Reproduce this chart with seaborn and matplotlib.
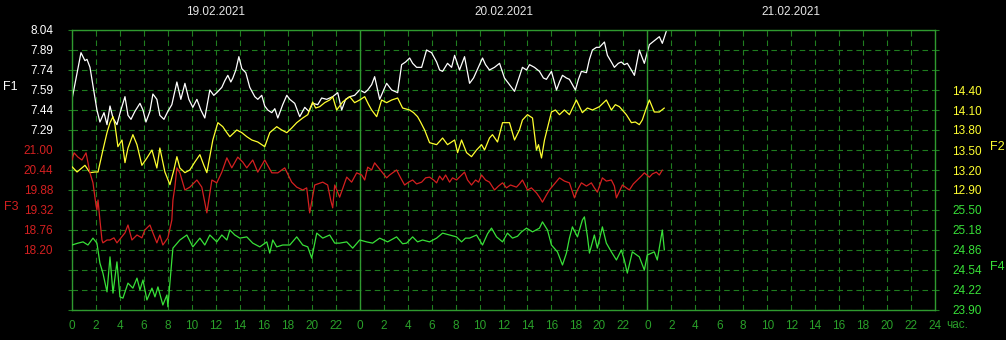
import matplotlib
matplotlib.use("Agg")
import matplotlib.pyplot as plt
import numpy as np
import seaborn as sns

# --- data (hours since 19.02.2021 00:00) ---
dates = ["19.02.2021", "20.02.2021", "21.02.2021"]

f1_hours = [0.00, 0.75, 1.08, 1.25, 1.50, 2.08, 2.33, 2.67, 2.92, 3.17,
            3.42, 3.75, 4.08, 4.42, 4.67, 4.92, 5.25, 5.67, 5.92, 6.17,
            6.50, 6.75, 7.08, 7.33, 7.67, 8.00, 8.33, 8.75, 9.08, 9.42,
            9.75, 10.08, 10.42, 10.75, 11.08, 11.50, 11.83, 12.08, 12.50, 12.75,
            13.00, 13.25, 13.42, 13.67, 13.92, 14.17, 14.50, 14.83, 15.25, 15.50,
            15.83, 16.08, 16.33, 16.67, 16.92, 17.17, 17.58, 17.92, 18.17, 18.58,
            19.00, 19.42, 19.75, 20.08, 20.50, 20.83, 21.25, 21.75, 22.17, 22.50,
            22.83, 23.17, 23.58, 24.00, 24.42, 24.67, 25.00, 25.25, 25.67, 26.00,
            26.25, 26.67, 27.17, 27.50, 27.83, 28.17, 28.42, 28.75, 29.17, 29.58,
            30.00, 30.42, 30.67, 30.92, 31.33, 31.67, 31.92, 32.33, 32.75, 33.17,
            33.50, 33.75, 34.25, 34.50, 34.83, 35.25, 35.67, 36.08, 36.50, 36.92,
            37.25, 37.58, 37.92, 38.17, 38.58, 39.00, 39.33, 39.58, 40.00, 40.42,
            40.67, 40.92, 41.25, 41.50, 41.75, 42.00, 42.25, 42.50, 42.92, 43.17,
            43.42, 43.75, 44.00, 44.42, 44.67, 45.00, 45.25, 45.58, 45.83, 46.08,
            46.33, 46.67, 46.92, 47.33, 47.75, 48.17, 48.58, 49.00, 49.25, 49.58]
f1_values = [7.52, 7.87, 7.81, 7.82, 7.76, 7.44, 7.35, 7.42, 7.33, 7.47,
             7.38, 7.33, 7.44, 7.54, 7.40, 7.37, 7.43, 7.49, 7.44, 7.35,
             7.43, 7.56, 7.52, 7.40, 7.37, 7.43, 7.48, 7.65, 7.52, 7.64,
             7.52, 7.46, 7.52, 7.44, 7.38, 7.59, 7.55, 7.57, 7.61, 7.66,
             7.70, 7.65, 7.68, 7.74, 7.84, 7.75, 7.72, 7.61, 7.54, 7.52,
             7.55, 7.47, 7.44, 7.42, 7.45, 7.38, 7.48, 7.55, 7.52, 7.49,
             7.39, 7.46, 7.43, 7.49, 7.48, 7.53, 7.52, 7.54, 7.57, 7.44,
             7.52, 7.54, 7.55, 7.59, 7.57, 7.59, 7.63, 7.69, 7.52, 7.59,
             7.64, 7.59, 7.57, 7.78, 7.80, 7.83, 7.79, 7.76, 7.76, 7.89,
             7.87, 7.80, 7.74, 7.73, 7.79, 7.76, 7.85, 7.74, 7.84, 7.64,
             7.68, 7.73, 7.83, 7.78, 7.74, 7.76, 7.79, 7.68, 7.63, 7.58,
             7.67, 7.76, 7.74, 7.78, 7.76, 7.73, 7.68, 7.67, 7.73, 7.59,
             7.65, 7.70, 7.68, 7.67, 7.63, 7.59, 7.67, 7.73, 7.72, 7.82,
             7.89, 7.91, 7.91, 7.95, 7.85, 7.80, 7.76, 7.79, 7.80, 7.78,
             7.79, 7.74, 7.70, 7.89, 7.79, 7.93, 7.96, 7.99, 7.94, 8.03]

f2_hours = [0.00, 0.42, 1.08, 1.50, 1.92, 2.17, 2.58, 2.92, 3.17, 3.42,
            3.58, 3.83, 4.17, 4.42, 4.67, 5.08, 5.42, 5.83, 6.25, 6.67,
            7.08, 7.33, 7.75, 8.17, 8.50, 8.75, 9.00, 9.42, 9.83, 10.25,
            10.67, 11.00, 11.25, 11.75, 12.17, 12.58, 12.92, 13.17, 13.75, 14.17,
            14.58, 15.00, 15.50, 16.08, 16.50, 17.08, 17.50, 17.92, 18.33, 18.75,
            19.25, 19.67, 20.08, 20.33, 20.67, 21.08, 21.50, 21.75, 22.08, 22.58,
            23.17, 23.58, 24.00, 24.42, 24.75, 25.00, 25.42, 25.83, 26.25, 26.67,
            27.17, 27.58, 28.17, 28.50, 28.83, 29.08, 29.42, 29.83, 30.42, 30.92,
            31.33, 31.92, 32.17, 32.50, 32.92, 33.33, 33.75, 34.17, 34.42, 34.83,
            35.08, 35.50, 35.92, 36.50, 36.92, 37.33, 37.58, 38.00, 38.42, 38.75,
            38.92, 39.17, 39.42, 39.83, 40.00, 40.33, 40.67, 41.08, 41.50, 42.08,
            42.58, 43.00, 43.42, 44.00, 44.58, 45.00, 45.33, 45.67, 46.25, 46.67,
            47.00, 47.33, 47.58, 47.92, 48.17, 48.58, 49.00, 49.42]
f2_values = [13.25, 13.17, 13.27, 13.16, 13.17, 13.17, 13.50, 13.76, 13.91, 14.00,
             13.88, 13.55, 13.65, 13.31, 13.53, 13.73, 13.58, 13.27, 13.38, 13.50,
             13.23, 13.53, 13.17, 12.98, 13.20, 13.40, 13.23, 13.16, 13.20, 13.32,
             13.43, 13.27, 13.16, 13.65, 13.91, 13.85, 13.76, 13.70, 13.80, 13.76,
             13.70, 13.65, 13.62, 13.55, 13.76, 13.85, 13.80, 13.76, 13.83, 13.91,
             13.98, 14.03, 14.22, 14.13, 14.15, 14.21, 14.25, 14.30, 14.10, 14.22,
             14.30, 14.21, 14.25, 14.30, 14.18, 14.10, 14.00, 14.25, 14.21, 14.25,
             14.28, 14.13, 14.10, 14.06, 14.00, 13.92, 13.80, 13.61, 13.58, 13.68,
             13.58, 13.65, 13.46, 13.65, 13.46, 13.40, 13.50, 13.58, 13.50, 13.68,
             13.73, 13.62, 13.91, 13.91, 13.65, 13.80, 13.95, 14.03, 13.98, 13.50,
             13.58, 13.38, 13.65, 13.95, 14.07, 14.10, 14.03, 14.10, 14.03, 14.25,
             14.06, 14.13, 14.10, 14.15, 14.25, 14.10, 14.18, 14.15, 14.03, 13.91,
             13.92, 13.88, 13.95, 14.13, 14.25, 14.07, 14.07, 14.13]

f3_hours = [0.00, 0.17, 0.50, 0.83, 1.17, 1.50, 1.75, 2.00, 2.08, 2.17,
            2.33, 2.50, 2.58, 2.92, 3.17, 3.50, 3.75, 4.08, 4.42, 4.67,
            5.00, 5.42, 5.83, 6.08, 6.50, 6.75, 7.08, 7.33, 7.58, 8.00,
            8.33, 8.42, 8.58, 8.75, 9.00, 9.42, 9.83, 10.42, 10.83, 11.25,
            11.67, 12.08, 12.50, 12.92, 13.33, 13.83, 14.25, 14.58, 15.08, 15.50,
            16.08, 16.67, 17.17, 17.75, 18.33, 18.75, 19.25, 19.58, 19.83, 20.25,
            20.92, 21.33, 21.58, 21.75, 21.92, 22.33, 22.92, 23.33, 23.75, 24.17,
            24.42, 24.67, 25.00, 25.25, 25.58, 25.92, 26.25, 26.50, 26.83, 27.08,
            27.42, 27.75, 28.08, 28.42, 28.75, 29.17, 29.50, 29.83, 30.17, 30.42,
            30.67, 30.92, 31.17, 31.50, 31.75, 32.08, 32.42, 32.75, 33.00, 33.33,
            33.67, 33.92, 34.17, 34.50, 34.83, 35.25, 35.58, 35.92, 36.25, 36.58,
            37.08, 37.33, 37.58, 38.00, 38.33, 38.75, 39.00, 39.25, 39.58, 39.83,
            40.25, 40.67, 41.08, 41.50, 41.92, 42.17, 42.50, 42.92, 43.33, 43.58,
            43.83, 44.25, 44.58, 45.00, 45.25, 45.42, 45.92, 46.25, 46.50, 46.83,
            47.17, 47.50, 47.75, 48.17, 48.42, 48.75, 49.00, 49.25]
f3_values = [20.72, 20.92, 20.80, 20.72, 20.92, 20.36, 20.08, 19.46, 19.32, 19.60,
             19.04, 18.48, 18.40, 18.48, 18.48, 18.54, 18.40, 18.54, 18.68, 18.90,
             18.48, 18.62, 18.54, 18.76, 18.90, 18.68, 18.40, 18.62, 18.34, 18.54,
             19.04, 19.60, 19.96, 20.50, 20.36, 19.88, 19.96, 20.16, 19.96, 19.24,
             20.16, 20.08, 20.38, 20.78, 20.50, 20.80, 20.66, 20.50, 20.72, 20.38,
             20.72, 20.36, 20.36, 20.50, 20.10, 19.96, 19.88, 19.94, 19.24, 20.02,
             20.10, 20.02, 19.60, 19.38, 20.02, 19.68, 20.24, 20.10, 20.36, 20.30,
             20.16, 20.52, 20.44, 20.64, 20.50, 20.36, 20.22, 20.30, 20.38, 20.44,
             20.22, 20.02, 20.10, 20.16, 20.05, 20.10, 20.22, 20.24, 20.16, 20.08,
             20.27, 20.16, 20.30, 20.10, 20.22, 20.16, 20.27, 20.38, 20.16, 20.02,
             20.16, 20.10, 20.30, 20.16, 20.10, 19.88, 19.99, 20.08, 19.94, 20.02,
             19.96, 20.05, 20.16, 19.88, 19.94, 19.80, 19.68, 19.54, 19.74, 19.88,
             20.05, 20.22, 20.13, 20.08, 19.66, 19.88, 20.08, 19.99, 20.08, 19.94,
             19.82, 20.22, 20.13, 20.16, 19.99, 19.66, 20.02, 19.94, 19.88, 20.05,
             20.16, 20.27, 20.36, 20.24, 20.33, 20.38, 20.30, 20.44]

f4_hours = [0.00, 0.50, 0.92, 1.33, 1.75, 2.08, 2.33, 2.58, 2.92, 3.17,
            3.42, 3.75, 4.00, 4.25, 4.67, 5.08, 5.42, 5.67, 5.92, 6.25,
            6.67, 6.92, 7.17, 7.58, 7.92, 8.00, 8.33, 8.42, 9.00, 9.58,
            10.08, 10.67, 11.08, 11.50, 12.08, 12.50, 12.92, 13.17, 13.58, 14.00,
            14.58, 15.08, 15.67, 16.25, 16.50, 16.75, 17.08, 17.58, 18.17, 18.75,
            19.25, 19.67, 20.00, 20.42, 20.92, 21.50, 21.92, 22.33, 22.92, 23.42,
            24.00, 24.58, 25.08, 25.67, 26.33, 27.08, 27.58, 27.92, 28.42, 28.83,
            29.25, 29.83, 30.42, 30.92, 31.50, 32.08, 32.50, 32.83, 33.17, 33.75,
            34.25, 34.67, 35.00, 35.42, 35.92, 36.33, 36.75, 37.17, 37.50, 37.92,
            38.42, 39.00, 39.25, 39.67, 40.00, 40.50, 40.92, 41.25, 41.50, 41.75,
            42.17, 42.58, 42.75, 43.00, 43.17, 43.58, 43.83, 44.25, 44.58, 45.00,
            45.42, 45.83, 46.08, 46.33, 46.75, 47.33, 47.75, 48.00, 48.58, 48.83,
            49.25, 49.42]
f4_values = [24.94, 24.97, 24.99, 24.94, 25.05, 24.97, 24.65, 24.49, 24.19, 24.75,
             24.17, 24.67, 24.11, 24.09, 24.33, 24.25, 24.41, 24.22, 24.38, 24.06,
             24.25, 24.11, 24.27, 23.98, 24.14, 23.95, 24.70, 24.89, 25.02, 25.10,
             24.91, 25.05, 24.94, 25.10, 24.99, 25.10, 25.02, 25.18, 25.10, 25.05,
             25.07, 24.97, 24.91, 24.99, 24.81, 25.02, 24.91, 24.94, 24.94, 25.07,
             24.94, 24.91, 24.73, 25.13, 25.05, 25.10, 24.97, 24.97, 24.99, 24.89,
             25.02, 24.99, 24.97, 25.05, 24.99, 25.07, 24.96, 24.97, 25.07, 24.99,
             25.02, 24.99, 25.05, 25.13, 25.10, 25.07, 24.99, 25.05, 25.05, 25.10,
             24.94, 25.12, 25.21, 25.07, 24.99, 25.13, 25.05, 25.08, 25.15, 25.21,
             25.15, 25.21, 25.31, 25.18, 24.94, 24.83, 24.62, 24.81, 25.05, 25.23,
             25.07, 25.34, 25.39, 25.08, 24.81, 25.10, 24.89, 25.23, 24.97, 24.83,
             24.70, 24.86, 24.70, 24.49, 24.83, 24.75, 24.54, 24.78, 24.83, 24.70,
             25.18, 24.86]

# scale labels shown on the panel
f1_ticks = [7.29, 7.44, 7.59, 7.74, 7.89, 8.04]
f3_ticks = [18.20, 18.76, 19.32, 19.88, 20.44, 21.00]
f2_ticks = [12.90, 13.20, 13.50, 13.80, 14.10, 14.40]
f4_ticks = [23.90, 24.22, 24.54, 24.86, 25.18, 25.50]

# colours
GRID = "#1f7d1f"
DAY = "#2f9a2f"
TICK_GREEN = "#2aa02a"
WHITE = "#ffffff"
YELLOW = "#ffff30"
RED = "#d42020"
GREEN = "#38e038"

sns.set_theme(style="dark", rc={"axes.facecolor": "black", "figure.facecolor": "black"})
plt.rcParams["font.family"] = ["Liberation Sans", "DejaVu Sans"]
FS = 8.5

fig = plt.figure(figsize=(10.06, 3.40), dpi=100)
ax = fig.add_axes([72 / 1006, 30 / 340, 863 / 1006, 280 / 340])
ax_f2 = ax.twinx()
ax_f3 = ax.twinx()
ax_f4 = ax.twinx()

for a, h, v, c in [(ax, f1_hours, f1_values, WHITE),
                   (ax_f2, f2_hours, f2_values, YELLOW),
                   (ax_f3, f3_hours, f3_values, RED),
                   (ax_f4, f4_hours, f4_values, GREEN)]:
    sns.lineplot(x=h, y=v, ax=a, color=c, linewidth=0.9, estimator=None, sort=False)

# main axis: F1 scale + grid
ax.set_facecolor("black")
ax.set_xlim(0, 72)
ax.set_ylim(5.94, 8.04)
rows = np.linspace(5.94, 8.04, 15)
ax.set_yticks(rows, [""] * 9 + [f"{t:.2f}" for t in f1_ticks])
hours = list(range(0, 73, 2))
ax.set_xticks(hours, [str(h % 24) if h < 72 else "24" for h in hours])
ax.grid(True, color=GRID, linestyle=(0, (5, 3.5)), linewidth=0.8)
ax.tick_params(axis="y", left=True, right=True, length=3, width=0.8, color=GRID,
               labelcolor=WHITE, labelsize=FS, pad=10.5)
ax.tick_params(axis="x", length=0, labelcolor=TICK_GREEN, labelsize=FS, pad=7)
for d in (24, 48):
    ax.axvline(d, color=DAY, linewidth=1.0)
for sp in ax.spines.values():
    sp.set_visible(True)
    sp.set_color(DAY)
    sp.set_linewidth(1.0)
ax.set_xlabel("")
ax.set_ylabel("")

# secondary scales
for a, lim, ticks, col, side in [(ax_f3, (16.52, 24.36), f3_ticks, RED, "left"),
                                 (ax_f2, (11.10, 15.30), f2_ticks, YELLOW, "right"),
                                 (ax_f4, (23.90, 28.38), f4_ticks, GREEN, "right")]:
    a.patch.set_visible(False)
    a.grid(False)
    for sp in a.spines.values():
        sp.set_visible(False)
    a.set_ylim(*lim)
    if side == "left":
        a.yaxis.tick_left()
    else:
        a.yaxis.tick_right()
    a.set_yticks(ticks, [f"{t:.2f}" for t in ticks])
    a.tick_params(axis="y", length=0, labelcolor=col, labelsize=FS,
                  pad=13.7 if side == "left" else 12.2)
    a.set_ylabel("")

# day captions and unit
for i, d in enumerate(dates):
    ax.text(12 + 24 * i, 1.064, d, transform=ax.get_xaxis_transform(),
            ha="center", va="center", color="#e6e6e6", fontsize=FS)
ax.text(72.9, -0.054, "час.", transform=ax.get_xaxis_transform(),
        ha="left", va="center", color=TICK_GREEN, fontsize=FS)

# series names
fig.text(10.5 / 1006, 1 - 87 / 340, "F1", color=WHITE, ha="center", va="center", fontsize=FS + 0.5)
fig.text(11.5 / 1006, 1 - 207 / 340, "F3", color=RED, ha="center", va="center", fontsize=FS + 0.5)
fig.text(997.5 / 1006, 1 - 147 / 340, "F2", color=YELLOW, ha="center", va="center", fontsize=FS + 0.5)
fig.text(997.5 / 1006, 1 - 267 / 340, "F4", color=GREEN, ha="center", va="center", fontsize=FS + 0.5)

fig.savefig("out.png", dpi=100, facecolor="black")
